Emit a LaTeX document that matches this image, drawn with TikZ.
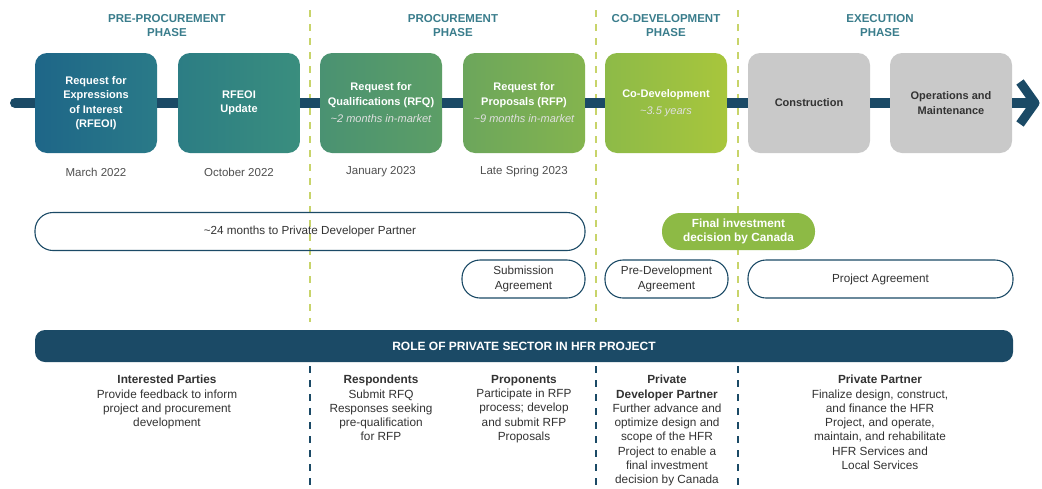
\documentclass[tikz,border=0pt]{standalone}
\usepackage{fontspec}
\setmainfont{Liberation Sans}
\usetikzlibrary{positioning}
\definecolor{navy}{HTML}{1B4A66}
\definecolor{headc}{HTML}{3A7D8C}
\definecolor{datec}{HTML}{505050}
\definecolor{txtc}{HTML}{333333}
\definecolor{limed}{HTML}{C8D46A}
\definecolor{greyb}{HTML}{C9C9C9}
\definecolor{fidc}{HTML}{8DBA45}
\definecolor{rfeoiL}{HTML}{1E6688}
\definecolor{rfeoiR}{HTML}{2A7A88}
\definecolor{updL}{HTML}{2C7D84}
\definecolor{updR}{HTML}{3A8E7E}
\definecolor{rfqL}{HTML}{4A9272}
\definecolor{rfqR}{HTML}{5C9E66}
\definecolor{rfpL}{HTML}{6CA65C}
\definecolor{rfpR}{HTML}{84B44E}
\definecolor{codL}{HTML}{8DBA48}
\definecolor{codR}{HTML}{A8C63C}

\begin{document}
\begin{tikzpicture}[x=1pt, y=-1pt,
   stage/.style={rounded corners=12pt, minimum width=122pt, minimum height=100pt,
      text=white, align=center, inner sep=2pt,
      font=\bfseries\fontsize{11}{14.5}\selectfont},
   greystage/.style={stage, fill=greyb, text=txtc},
   phase/.style={text=headc, align=center, font=\bfseries\fontsize{11.5}{14}\selectfont},
   datelbl/.style={text=datec, font=\fontsize{11.5}{13}\selectfont},
   pill/.style={draw=navy, line width=1.1pt, rounded corners=18pt, minimum height=38pt,
      align=center, text=txtc, inner sep=2pt, font=\fontsize{11.7}{14.5}\selectfont},
   role/.style={text=txtc, align=center, anchor=north, inner sep=0pt,
      font=\fontsize{11.8}{14.3}\selectfont},
   tl/.style={navy, line width=10pt},
   chev/.style={navy, line width=9pt, line join=round},
   limedash/.style={limed, line width=2.5pt, dash pattern=on 7pt off 7pt},
   navydash/.style={navy, line width=2pt, dash pattern=on 7pt off 7pt}]
%
\fill[white] (0,0) rectangle (1042,488);
\useasboundingbox (0,0) rectangle (1042,488);
%
\coordinate (d1t) at (310,10); \coordinate (d1b) at (310,322);
\coordinate (d2t) at (596,10); \coordinate (d2b) at (596,322);
\coordinate (d3t) at (738,10); \coordinate (d3b) at (738,322);
\coordinate (e1t) at (310,366); \coordinate (e1b) at (310,488);
\coordinate (e2t) at (596,366); \coordinate (e2b) at (596,488);
\coordinate (e3t) at (738,366); \coordinate (e3b) at (738,488);
\draw[limedash] (d1t)--(d1b);
\draw[limedash] (d2t)--(d2b);
\draw[limedash] (d3t)--(d3b);
\draw[navydash] (e1t)--(e1b);
\draw[navydash] (e2t)--(e2b);
\draw[navydash] (e3t)--(e3b);
%
             \node [phase] at (167,26) (pre) {PRE-PROCUREMENT\\PHASE};
              \node [phase] at (453,26) (proc) {PROCUREMENT\\PHASE};
                   \node [phase] at (666,26) (codev) {CO-DEVELOPMENT\\PHASE};
                       \node [phase] at (880,26) (exec) {EXECUTION\\PHASE};
%
             \node [stage, left color=rfeoiL, right color=rfeoiR] at (96,103) (rfeoi)
                  {Request for\\Expressions\\of Interest\\(RFEOI)};
              \node [stage, left color=updL, right color=updR] at (239,103) (update)
                  {RFEOI\\Update};
                   \node [stage, left color=rfqL, right color=rfqR] at (381,103) (rfq)
                  {Request for\\Qualifications (RFQ)\\[3pt]{\mdseries\itshape\color{white!88!black}\textasciitilde2 months in-market}};
                       \node [stage, left color=rfpL, right color=rfpR] at (524,103) (rfp)
                  {Request for\\Proposals (RFP)\\[3pt]{\mdseries\itshape\color{white!88!black}\textasciitilde9 months in-market}};
                        \node [stage, left color=codL, right color=codR] at (666,103) (cod)
                  {Co-Development\\[3pt]{\mdseries\itshape\color{white!88!black}\textasciitilde3.5 years}};
                        \node [greystage] at (809,103) (cons) {Construction};
                        \node [greystage] at (951,103) (om) {Operations and\\Maintenance};
%
\coordinate (tlstart) at (15,103);
\coordinate (tlend) at (1035,103);
\draw[tl] (tlstart)--(rfeoi);
\draw[tl] (rfeoi)--(update);
\draw[tl] (update)--(rfq);
\draw[tl] (rfq)--(rfp);
\draw[tl] (rfp)--(cod);
\draw[tl] (cod)--(cons);
\draw[tl] (cons)--(om);
\draw[tl] (om)--([xshift=-4pt]tlend);
\fill[navy] (tlstart) circle (5pt);
\draw[chev] (tlend) ++(-15,-21) -- (tlend) -- ++(-15,21);
%
             \node [datelbl] at (96,172) (mar) {March 2022};
              \node [datelbl] at (239,172) (oct) {October 2022};
                   \node [datelbl] at (381,172) (jan) {January 2023};
                       \node [datelbl] at (524,172) (spr) {Late Spring 2023};
%
\node [pill, minimum width=550pt] at (310,231.5) (months)
     {\textasciitilde24 months to Private Developer Partner};
\node [pill, fill=fidc, draw=none, text=white, minimum width=153pt, minimum height=37pt,
       font=\bfseries\fontsize{11.8}{14}\selectfont] at (738.5,231.5) (fid)
     {Final investment\\decision by Canada};
\node [pill, minimum width=123pt] at (523.5,279) (sub) {Submission\\Agreement};
\node [pill, minimum width=123pt] at (666.5,279) (pda) {Pre-Development\\Agreement};
\node [pill, minimum width=265pt] at (880.5,279) (pa) {Project Agreement};
%
\node [fill=navy, rounded corners=10pt, minimum width=978pt, minimum height=32pt,
       text=white, font=\bfseries\fontsize{12}{14}\selectfont] at (524,346) (rolebar)
     {ROLE OF PRIVATE SECTOR IN HFR PROJECT};
%
\node [role] at (167,375) (ip) {\textbf{Interested Parties}\\Provide feedback to inform\\project and procurement\\development};
\node [role] at (381,375) (resp) {\textbf{Respondents}\\Submit RFQ\\Responses seeking\\pre-qualification\\for RFP};
\node [role] at (524,375) (prop) {\textbf{Proponents}\\Participate in RFP\\process; develop\\and submit RFP\\Proposals};
\node [role] at (667,375) (pdp) {\textbf{Private}\\\textbf{Developer Partner}\\Further advance and\\optimize design and\\scope of the HFR\\Project to enable a\\final investment\\decision by Canada};
\node [role] at (880,375) (pp) {\textbf{Private Partner}\\Finalize design, construct,\\and finance the HFR\\Project, and operate,\\maintain, and rehabilitate\\HFR Services and\\Local Services};
\end{tikzpicture}
\end{document}
